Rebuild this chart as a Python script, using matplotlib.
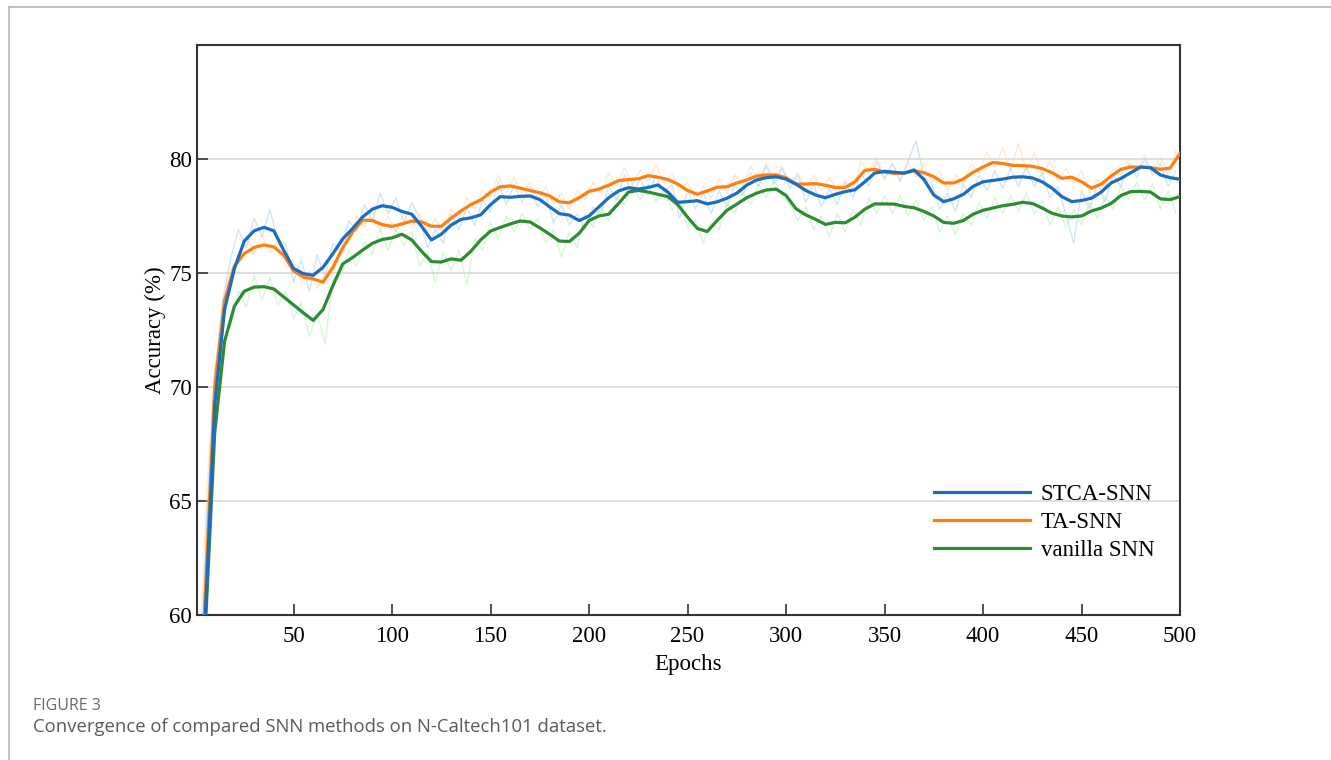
import numpy as np
import matplotlib
matplotlib.use("Agg")
import matplotlib.pyplot as plt
from matplotlib.lines import Line2D

# smoothed curves, sampled at epoch 1 and every 5 epochs
epochs = np.concatenate(([1], np.arange(5, 501, 5)))

stca = [52.0, 59.5, 69.2, 73.4, 75.2, 76.4, 76.85, 77.0, 76.85, 76.0, 75.2,
        74.97, 74.9, 75.25, 75.85, 76.5, 76.95, 77.45, 77.8, 77.95, 77.88,
        77.7, 77.58, 77.05, 76.45, 76.7, 77.1, 77.35, 77.42, 77.55, 78.0,
        78.35, 78.32, 78.36, 78.38, 78.22, 77.9, 77.6, 77.54, 77.3, 77.5,
        77.9, 78.3, 78.6, 78.74, 78.68, 78.75, 78.86, 78.55, 78.1, 78.13,
        78.17, 78.03, 78.12, 78.28, 78.5, 78.85, 79.08, 79.18, 79.22, 79.12,
        78.9, 78.62, 78.42, 78.3, 78.45, 78.57, 78.65, 79.0, 79.38, 79.46,
        79.42, 79.38, 79.52, 79.1, 78.42, 78.13, 78.25, 78.45, 78.8, 79.0,
        79.06, 79.12, 79.2, 79.22, 79.17, 79.0, 78.72, 78.35, 78.13, 78.18,
        78.28, 78.55, 78.95, 79.15, 79.4, 79.65, 79.62, 79.3, 79.18, 79.11]

ta = [54.0, 60.5, 70.0, 73.8, 75.3, 75.85, 76.12, 76.23, 76.15, 75.78, 75.1,
      74.82, 74.74, 74.6, 75.25, 76.1, 76.8, 77.32, 77.3, 77.12, 77.04,
      77.15, 77.28, 77.24, 77.05, 77.05, 77.4, 77.72, 78.0, 78.2, 78.55,
      78.78, 78.82, 78.72, 78.62, 78.52, 78.38, 78.12, 78.08, 78.3, 78.58,
      78.68, 78.85, 79.05, 79.1, 79.13, 79.27, 79.2, 79.1, 78.9, 78.62,
      78.45, 78.6, 78.76, 78.78, 78.95, 79.08, 79.25, 79.3, 79.3, 79.18,
      78.9, 78.9, 78.92, 78.85, 78.75, 78.75, 79.0, 79.5, 79.55, 79.42,
      79.37, 79.38, 79.48, 79.4, 79.22, 78.95, 78.95, 79.12, 79.42, 79.65,
      79.85, 79.8, 79.72, 79.71, 79.68, 79.58, 79.4, 79.15, 79.2, 79.0,
      78.72, 78.9, 79.25, 79.55, 79.65, 79.64, 79.62, 79.55, 79.6, 80.25]

vanilla = [50.0, 59.0, 68.0, 72.0, 73.55, 74.2, 74.38, 74.4, 74.3, 73.95, 73.6,
           73.25, 72.92, 73.4, 74.45, 75.4, 75.68, 76.0, 76.3, 76.47, 76.54,
           76.7, 76.45, 75.95, 75.5, 75.48, 75.62, 75.56, 75.95, 76.45, 76.84,
           77.0, 77.15, 77.28, 77.24, 76.98, 76.7, 76.4, 76.38, 76.74, 77.3,
           77.5, 77.58, 78.05, 78.55, 78.62, 78.55, 78.45, 78.35, 78.0, 77.45,
           76.95, 76.82, 77.3, 77.75, 78.02, 78.3, 78.5, 78.64, 78.68, 78.4,
           77.82, 77.55, 77.35, 77.13, 77.22, 77.2, 77.45, 77.8, 78.03, 78.03,
           78.02, 77.92, 77.86, 77.7, 77.5, 77.22, 77.18, 77.3, 77.58, 77.75,
           77.85, 77.95, 78.01, 78.1, 78.05, 77.85, 77.62, 77.5, 77.46, 77.5,
           77.72, 77.85, 78.05, 78.4, 78.57, 78.58, 78.55, 78.25, 78.22, 78.35]

# raw (unsmoothed) accuracy, every 4 epochs
raw_epochs = np.arange(2, 501, 4)

stca_raw = [55.0, 64.5, 70.5, 73.8, 75.6, 76.9, 76.1, 77.4, 76.6, 77.8, 76.4, 76.3,
            74.6, 75.6, 74.2, 75.8, 74.8, 76.3, 76.0, 77.3, 76.8, 78.0, 77.3, 78.5,
            77.6, 78.3, 77.2, 78.1, 77.4, 76.1, 76.9, 76.3, 77.6, 76.9, 77.9, 77.1,
            78.2, 77.7, 79.0, 78.0, 78.9, 78.1, 78.8, 77.9, 78.4, 77.2, 78.0, 77.1,
            77.6, 76.9, 77.9, 77.6, 78.8, 78.2, 79.3, 78.5, 79.1, 78.4, 79.3, 78.5,
            78.9, 77.4, 78.6, 77.8, 78.5, 77.6, 78.6, 77.9, 78.9, 78.4, 79.4, 78.8,
            79.7, 78.9, 79.6, 78.7, 79.3, 78.1, 78.9, 77.9, 78.7, 78.0, 79.0, 78.3,
            79.4, 78.8, 79.9, 79.1, 79.8, 79.0, 79.9, 80.8, 79.2, 78.9, 77.8, 78.5,
            77.7, 78.9, 78.3, 79.3, 78.6, 79.5, 78.7, 79.6, 78.8, 79.7, 78.8, 79.4,
            78.3, 78.8, 77.6, 76.3, 78.6, 77.8, 78.9, 78.1, 79.3, 78.8, 79.8, 79.2,
            80.0, 79.3, 79.8, 78.8, 79.5]

ta_raw = [57.0, 65.5, 70.8, 73.3, 75.2, 75.4, 76.6, 75.8, 76.7, 75.9, 76.4, 75.2,
          75.6, 74.5, 75.1, 74.3, 75.0, 74.9, 76.5, 76.4, 77.5, 77.0, 77.7, 76.8,
          77.5, 76.8, 77.6, 77.0, 77.6, 76.8, 77.4, 76.8, 77.8, 77.4, 78.3, 77.8,
          78.6, 78.3, 79.3, 78.5, 79.2, 78.4, 79.0, 78.2, 78.8, 78.0, 78.5, 77.8,
          78.6, 78.2, 79.0, 78.5, 79.4, 78.8, 79.6, 78.9, 79.5, 79.0, 79.8, 78.9,
          79.4, 78.6, 79.0, 78.2, 78.8, 78.3, 79.1, 78.5, 79.3, 78.8, 79.7, 79.0,
          79.8, 79.1, 79.7, 78.9, 79.4, 78.6, 79.3, 78.6, 79.2, 78.5, 79.1, 78.6,
          79.9, 79.3, 80.1, 79.2, 79.8, 79.1, 79.9, 79.2, 79.8, 79.0, 79.5, 78.6,
          79.3, 78.9, 79.8, 79.4, 80.3, 79.6, 80.5, 79.5, 80.7, 79.5, 80.3, 79.3,
          79.9, 79.0, 79.6, 78.9, 79.5, 78.5, 79.1, 78.8, 79.6, 79.3, 80.0, 79.4,
          80.2, 79.4, 80.1, 79.3, 80.4]

vanilla_raw = [54.0, 63.0, 69.0, 72.8, 72.6, 74.2, 73.5, 74.9, 73.8, 74.8, 73.6, 74.2,
               73.0, 73.7, 72.2, 73.2, 71.9, 74.7, 74.9, 76.0, 75.3, 76.4, 75.8, 76.9,
               76.0, 76.9, 76.2, 76.8, 75.3, 75.9, 74.6, 75.9, 75.1, 76.0, 74.5, 76.5,
               76.0, 77.2, 76.5, 77.5, 76.8, 77.6, 76.9, 77.4, 76.3, 76.9, 75.7, 76.8,
               76.1, 77.6, 77.0, 77.9, 77.3, 78.3, 78.0, 78.9, 78.2, 78.9, 78.1, 78.7,
               77.8, 78.2, 77.0, 77.3, 76.3, 77.2, 76.9, 78.1, 77.6, 78.6, 78.0, 78.9,
               78.3, 79.1, 78.4, 78.0, 77.3, 77.9, 76.9, 77.5, 76.6, 77.6, 76.8, 77.8,
               77.1, 78.3, 77.6, 78.4, 77.6, 78.4, 77.5, 78.2, 77.3, 77.9, 76.8, 77.5,
               76.7, 77.6, 77.1, 78.1, 77.4, 78.3, 77.6, 78.4, 77.7, 78.5, 77.6, 78.2,
               77.1, 77.9, 77.0, 77.8, 77.1, 78.1, 77.4, 78.4, 77.8, 78.8, 78.2, 79.0,
               78.2, 78.9, 77.8, 78.6, 77.6]

labels = ["STCA-SNN", "TA-SNN", "vanilla SNN"]
colors = ["#1a6dbf", "#ff7f0e", "#2e8b34"]
light = ["#9cc6f2", "#ffcfa6", "#a8eea8"]

plt.rcParams["font.family"] = ["Liberation Serif", "DejaVu Serif"]
fig = plt.figure(figsize=(13.31, 7.60), dpi=100)
ax = fig.add_axes([0.148, 0.1908, 0.7386, 0.75])

for raw, c in zip([stca_raw, ta_raw, vanilla_raw], light):
    ax.plot(raw_epochs, raw, color=c, lw=0.9, alpha=0.5, zorder=2)

ax.plot(epochs, vanilla, color=colors[2], lw=2.3, label=labels[2], zorder=3)
ax.plot(epochs, ta, color=colors[1], lw=2.3, label=labels[1], zorder=4)
ax.plot(epochs, stca, color=colors[0], lw=2.3, label=labels[0], zorder=5)

ax.set_xlim(1, 500)
ax.set_ylim(60, 85)
ax.set_xticks(range(50, 501, 50))
ax.set_yticks(range(60, 81, 5))
ax.yaxis.grid(True, color="#dcdcdc", lw=1.3)
ax.set_axisbelow(True)
ax.tick_params(direction="in", length=8, width=1.2, labelsize=16.5, color="#333333")
ax.tick_params(axis="x", pad=8)
for s in ax.spines.values():
    s.set_color("#333333")
    s.set_linewidth(1.5)
ax.set_xlabel("Epochs", fontsize=16.5, labelpad=5)
ax.set_ylabel("Accuracy (%)", fontsize=16.5, labelpad=2)

h, l = ax.get_legend_handles_labels()
order = [2, 1, 0]
ax.legend([h[i] for i in order], [l[i] for i in order], loc="lower right",
          bbox_to_anchor=(0.995, 0.058), frameon=False, fontsize=16.5,
          handlelength=4.2, handletextpad=0.45, labelspacing=0.3)

# page frame and caption
fig.add_artist(Line2D([9 / 1331, 1], [1 - 7 / 760, 1 - 7 / 760], color="#b5b5b5", lw=1.2))
fig.add_artist(Line2D([9 / 1331, 9 / 1331], [0, 1 - 7 / 760], color="#b5b5b5", lw=1.2))
fig.text(33 / 1331, 1 - 706 / 760, "FIGURE 3", family="Open Sans", fontsize=11.5,
         color="#6a6a6a", va="center")
fig.text(33 / 1331, 1 - 727 / 760,
         "Convergence of compared SNN methods on N-Caltech101 dataset.",
         family="Open Sans", fontsize=13.3, color="#5a5a5a", va="center")

fig.savefig("out.png", dpi=100)
